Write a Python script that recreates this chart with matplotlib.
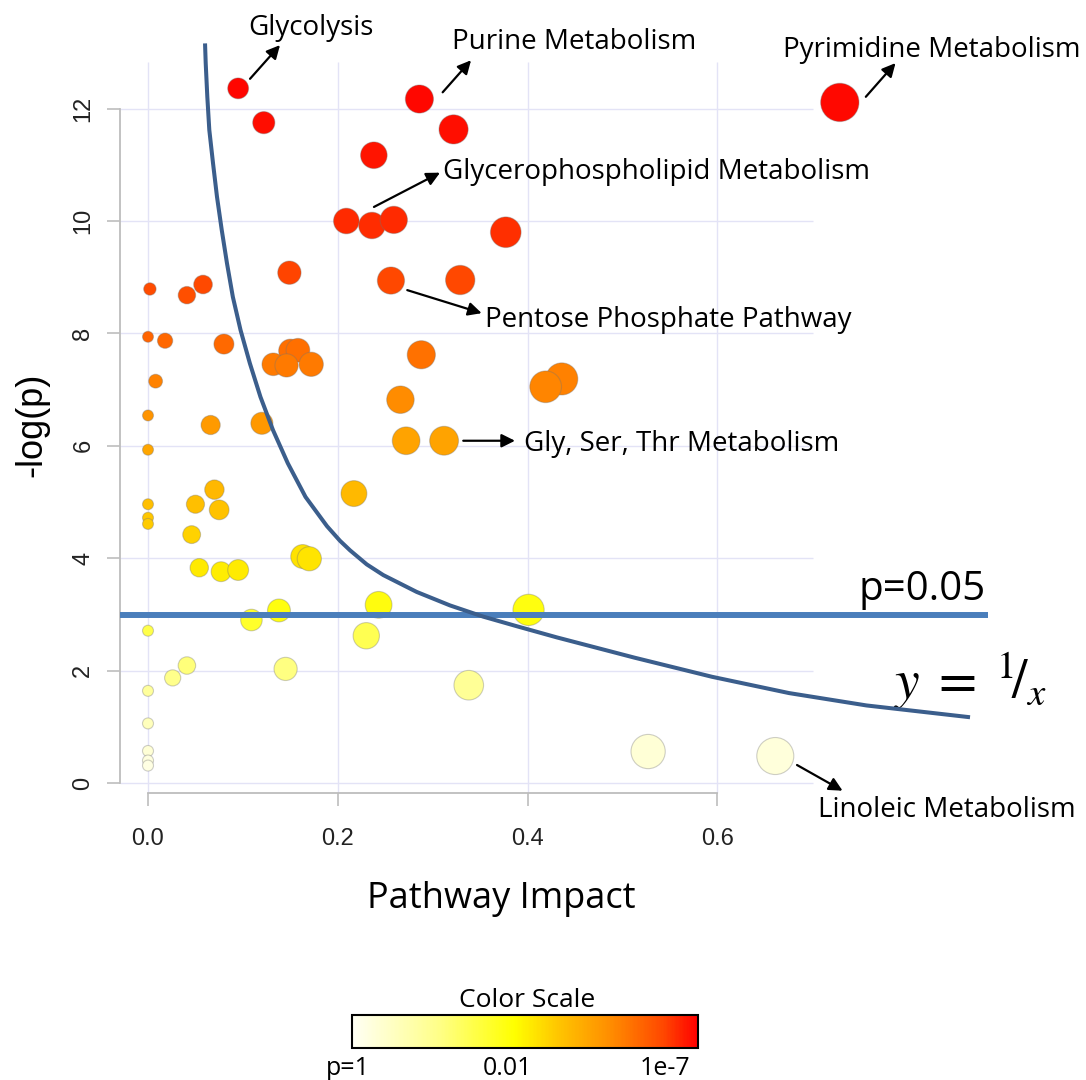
import numpy as np
import matplotlib.pyplot as plt
from matplotlib.colors import LinearSegmentedColormap, Normalize
import matplotlib.colorbar as mcolorbar

my_dpi = 100
W, H = 1086, 1080

plt.rcParams['font.family'] = ['Liberation Sans', 'DejaVu Sans']
plt.rcParams['mathtext.fontset'] = 'stix'

# pathway bubbles: impact (x) and -log(p) (y)
impact = [0.095, 0.122, 0.286, 0.322, 0.238, 0.209, 0.236, 0.259, 0.377, 0.149,
          0.256, 0.329, 0.002, 0.041, 0.058, 0.000, 0.018, 0.080, 0.150, 0.158,
          0.132, 0.146, 0.172, 0.288, 0.008, 0.266, 0.000, 0.066, 0.120, 0.272,
          0.312, 0.000, 0.070, 0.217, 0.050, 0.075, 0.000, 0.000, 0.000, 0.046,
          0.163, 0.170, 0.054, 0.077, 0.095, 0.138, 0.243, 0.109, 0.000, 0.230,
          0.041, 0.026, 0.145, 0.338, 0.000, 0.000, 0.000, 0.000, 0.000, 0.401,
          0.527, 0.661, 0.729, 0.436, 0.419]
neglogp = [12.36, 11.75, 12.17, 11.63, 11.17, 10.00, 9.92, 10.02, 9.80, 9.08,
           8.94, 8.95, 8.79, 8.68, 8.87, 7.94, 7.87, 7.81, 7.69, 7.70,
           7.45, 7.43, 7.45, 7.62, 7.15, 6.82, 6.54, 6.37, 6.40, 6.09,
           6.09, 5.93, 5.22, 5.15, 4.96, 4.86, 4.96, 4.72, 4.61, 4.42,
           4.03, 3.99, 3.83, 3.76, 3.79, 3.07, 3.17, 2.90, 2.71, 2.62,
           2.09, 1.87, 2.03, 1.74, 1.64, 1.06, 0.57, 0.40, 0.31, 3.08,
           0.56, 0.48, 12.11, 7.19, 7.05]

# hand drawn "y = 1/x" guide
curve_x = [0.0601, 0.0608, 0.0625, 0.0646, 0.0685, 0.0727, 0.0777, 0.0832, 0.0894,
           0.0975, 0.1073, 0.1185, 0.1317, 0.1473, 0.1660, 0.1886, 0.2023, 0.2129,
           0.2305, 0.2479, 0.2831, 0.3182, 0.3533, 0.3885, 0.4310, 0.5127, 0.5943,
           0.6755, 0.7571, 0.8662]
curve_y = [13.16, 12.81, 12.21, 11.62, 11.03, 10.43, 9.84, 9.25, 8.65,
           8.06, 7.47, 6.87, 6.28, 5.69, 5.09, 4.57, 4.31, 4.14,
           3.89, 3.70, 3.40, 3.16, 2.96, 2.79, 2.59, 2.23, 1.89,
           1.60, 1.38, 1.17]

p_cut = 0.05

names = ["Glycolysis", "Purine Metabolism", "Pyrimidine Metabolism",
         "Glycerophospholipid Metabolism", "Pentose Phosphate Pathway",
         "Gly, Ser, Thr Metabolism", "Linoleic Metabolism"]
name_xy = [(0.1054, 13.31), (0.3203, 13.06), (0.6691, 12.92), (0.3109, 10.75),
           (0.3551, 8.11), (0.3962, 5.91), (0.7060, -0.605)]
arrow_from = [(0.1075, 12.53), (0.3105, 12.29), (0.7564, 12.21), (0.2381, 10.25),
              (0.2732, 8.77), (0.3322, 6.09), (0.6839, 0.32)]
arrow_to = [(0.1391, 13.13), (0.3404, 12.86), (0.7877, 12.81), (0.3077, 10.86),
            (0.3516, 8.36), (0.3867, 6.09), (0.7319, -0.137)]

x_ticks = [0.0, 0.2, 0.4, 0.6]
x_tick_labels = ["0.0", "0.2", "0.4", "0.6"]
y_ticks = [0, 2, 4, 6, 8, 10, 12]
scale_labels = ["p=1", "0.01", "1e-7"]

heat = LinearSegmentedColormap.from_list("heat", [
    (0.00, "#FFFFF2"), (0.05, "#FFFFD2"), (0.13, "#FFFF9C"), (0.21, "#FFFF55"),
    (0.245, "#FFFF10"), (0.31, "#FFEA00"), (0.36, "#FFD000"), (0.41, "#FFBB00"),
    (0.49, "#FFA300"), (0.55, "#FF8C00"), (0.60, "#FF7A00"), (0.64, "#FF6400"),
    (0.71, "#FF4C00"), (0.80, "#FF2C00"), (0.90, "#FF1400"), (1.00, "#FF0500")])
bar_cmap = LinearSegmentedColormap.from_list("bar", [
    (0.00, "#FFFFF5"), (0.25, "#FFFF88"), (0.47, "#FFFF00"), (0.60, "#FFC400"),
    (0.75, "#FF8C00"), (0.90, "#FF4800"), (1.00, "#FF0000")])

fig = plt.figure(figsize=(W / my_dpi, H / my_dpi), dpi=my_dpi)
ax = fig.add_axes([0, 0, 1, 1])
# data <-> pixel: x=0 at 148px (949 px/unit), y=0 at 783px (56.2 px/unit)
ax.set_xlim(-148 / 949, (W - 148) / 949)
ax.set_ylim(-(H - 783) / 56.2, 783 / 56.2)
ax.patch.set_visible(False)

x_left, x_right = -0.0295, 0.7007
y_bot, y_top = -0.178, 12.83
grid_c = "#E3E3F6"
ax.hlines(y_ticks, x_left, x_right, color=grid_c, lw=1, zorder=0)
ax.vlines(x_ticks, y_bot, y_top, color=grid_c, lw=1, zorder=0)

for s in ["top", "right"]:
    ax.spines[s].set_visible(False)
ax.spines["left"].set_position(("data", x_left))
ax.spines["left"].set_bounds(0, 12)
ax.spines["bottom"].set_position(("data", y_bot))
ax.spines["bottom"].set_bounds(0, 0.6)
for s in ["left", "bottom"]:
    ax.spines[s].set_color("#BDBDBD")
    ax.spines[s].set_linewidth(1.3)
ax.set_xticks(x_ticks)
ax.set_xticklabels(x_tick_labels)
ax.set_yticks(y_ticks)
ax.tick_params(length=9.5, width=1.2, color="#BDBDBD", labelsize=17, labelcolor="#222222")
ax.tick_params(axis="x", pad=16)
ax.tick_params(axis="y", pad=9, labelrotation=90)
for t in ax.get_yticklabels():
    t.set_va("center")

imp = np.array(impact)
nlp = np.array(neglogp)
r_px = 5.5 + 16 * np.sqrt(imp)
sizes = (2 * r_px * 72 / my_dpi) ** 2
ax.scatter(imp, nlp, s=sizes, c=nlp, cmap=heat, norm=Normalize(0, 12.4),
           edgecolors=(0.45, 0.45, 0.45, 0.35), linewidths=0.8, zorder=3)

ax.plot([x_left, 0.885], [-np.log(p_cut)] * 2, color="#4A7EBB", lw=4.3,
        solid_capstyle="butt", zorder=4)
ax.plot(curve_x, curve_y, color="#3B5E8C", lw=2.9, solid_capstyle="butt",
        solid_joinstyle="round", zorder=4)

for name, xy, a, b in zip(names, name_xy, arrow_from, arrow_to):
    ax.text(xy[0], xy[1], name, fontsize=20, family="Open Sans", ha="left", va="baseline")
    ax.annotate("", xy=b, xytext=a,
                arrowprops=dict(arrowstyle="-|>", color="black", lw=1.6,
                                mutation_scale=20, shrinkA=0, shrinkB=0))

ax.text(0.749, 3.26, "p=0.05", fontsize=29, family="Open Sans", ha="left", va="baseline")
ax.text(0.785, 1.50, r"$y\;=\;{}^{1}\!/_{x}$", fontsize=40, ha="left", va="baseline")

fig.text(32 / W, 1 - 425 / H, "-log(p)", rotation=90, ha="center", va="center", fontsize=26)
fig.text(501 / W, 1 - 908 / H, "Pathway Impact", ha="center", va="baseline",
         fontsize=26, family="Open Sans")

cax = fig.add_axes([351.7 / W, 1 - 1048 / H, 346.3 / W, 33 / H])
cb = mcolorbar.ColorbarBase(cax, cmap=bar_cmap, norm=Normalize(0, 1), orientation="horizontal")
cb.set_ticks([])
cb.outline.set_linewidth(1.5)
cb.outline.set_edgecolor("black")
fig.text(527.5 / W, 1 - 1007 / H, "Color Scale", ha="center", va="baseline",
         fontsize=19, family="Open Sans")
for lab, cx in zip(scale_labels, [347.5, 507.5, 665.5]):
    fig.text(cx / W, 1 - 1075 / H, lab, ha="center", va="baseline", fontsize=18, family="Open Sans")

fig.savefig("out.png", dpi=my_dpi)
